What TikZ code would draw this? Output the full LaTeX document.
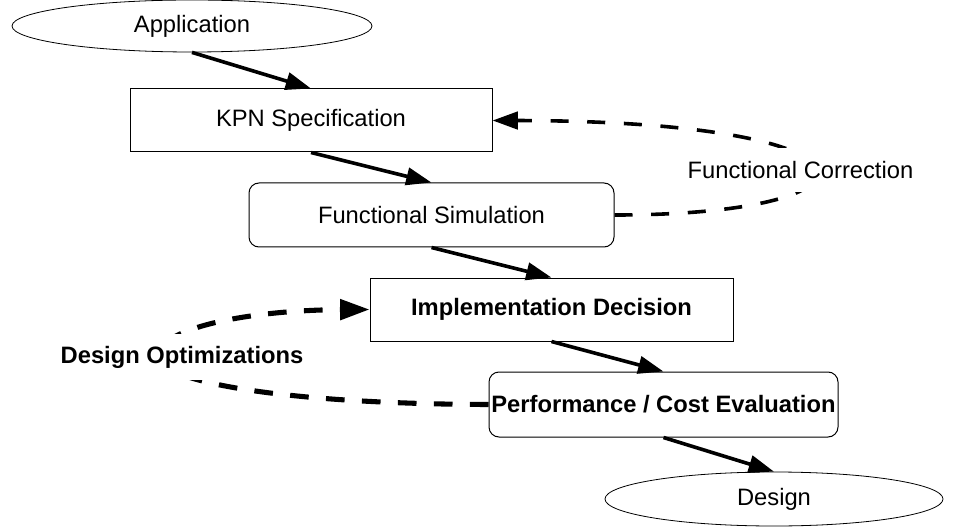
\documentclass[tikz,border=0pt]{standalone}
\usepackage{fontspec}
\setmainfont{Liberation Sans}
\usetikzlibrary{shapes.geometric,arrows.meta}

\tikzset{
  every node/.style={font=\fontsize{17.8}{20}\selectfont, inner sep=0pt},
  frame/.style={draw, line width=0.75pt, fill=white},
  endpoint/.style={frame, ellipse, line width=0.6pt},
  plainbox/.style={frame, rectangle},
  roundbox/.style={frame, rectangle, rounded corners=7.5pt},
  emph/.style={font=\fontsize{17.8}{20}\selectfont\bfseries},
  tip/.style={-{Triangle[length=19pt,width=13pt]}},
  bigtip/.style={-{Triangle[length=22pt,width=15pt]}},
  flow/.style={line width=2.7pt, tip},
  feedback/.style={line width=2.7pt, dash pattern=on 13.5pt off 14pt, tip},
  feedbackthick/.style={line width=3.8pt, dash pattern=on 14pt off 13pt, bigtip},
  tag/.style={fill=white, inner xsep=4pt, inner ysep=10pt},
}

\begin{document}
\begin{tikzpicture}[x=0.75pt, y=-0.75pt]
  \useasboundingbox (0,0) rectangle (963,527);

  % process chain
  \node[endpoint, minimum width=270pt, minimum height=39pt] (app) at (192,26) {Application};
  \node[plainbox, minimum width=271.5pt, minimum height=47.25pt] (kpn) at (311,120.5) {KPN Specification};
  \node[roundbox, minimum width=273.75pt, minimum height=48pt] (fsim) at (431.5,215) {Functional Simulation};
  \node[plainbox, emph, minimum width=272.25pt, minimum height=47.25pt] (impl) at (551.5,309.5) {Implementation Decision};
  \node[roundbox, emph, minimum width=261.75pt, minimum height=48.75pt] (perf) at (663.5,404.5) {Performance / Cost Evaluation};
  \node[endpoint, minimum width=253.5pt, minimum height=40.5pt] (design) at (774,499) {Design};

  % forward flow
  \draw[flow] (app.south) -- (kpn.north);
  \draw[flow] (kpn.south) -- (fsim.north);
  \draw[flow] (fsim.south) -- (impl.north);
  \draw[flow] (impl.south) -- (perf.north);
  \draw[flow] (perf.south) -- (design.north);

  % feedback loops
  \coordinate (turn) at (155,358);
  \draw[feedback] (fsim.east) .. controls (900,215) and (900,121) .. (kpn.east);
  \draw[feedbackthick] (perf.west) .. controls (300,404) and (170,385) .. (turn)
                                   .. controls (160,325) and (260,310) .. (impl.west);

  % loop labels
  \node[tag] (corr) at (800.5,170) {Functional Correction};
  \node[tag, emph, inner ysep=9pt] (opt) at (182,357) {Design Optimizations};
\end{tikzpicture}
\end{document}
